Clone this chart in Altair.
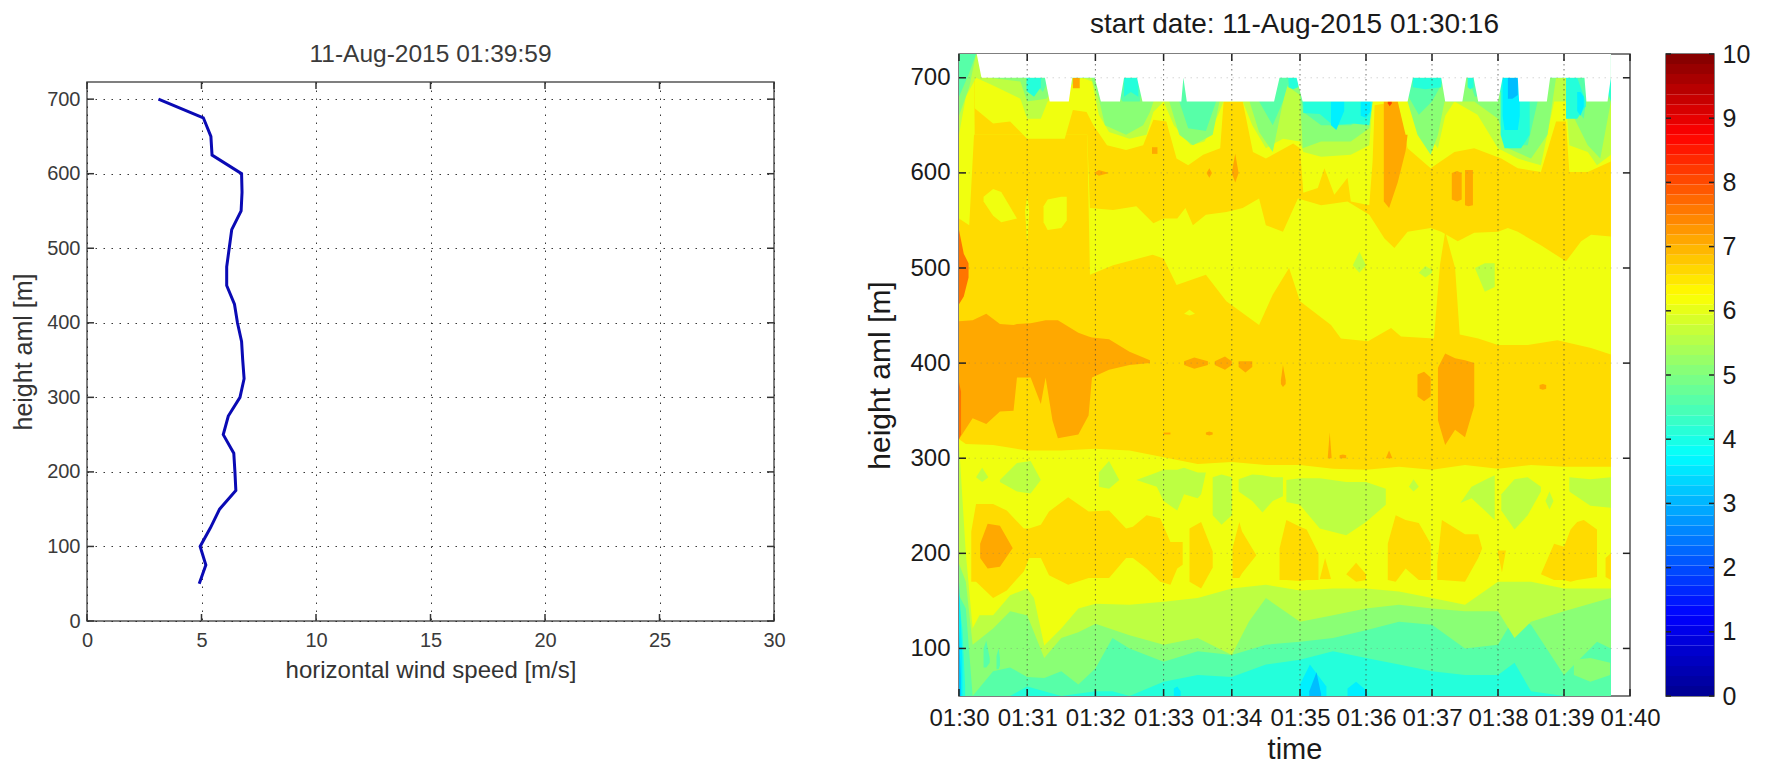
import altair as alt
import pandas as pd

FONT = "Liberation Sans"

# ---------- left panel: wind profile ----------
profile_height = [700,675,650,625,600,575,550,525,500,475,450,425,400,375,350,325,300,275,250,225,200,175,150,125,100,75,50]
profile_speed = [3.12,5.08,5.41,5.46,6.75,6.77,6.73,6.32,6.21,6.1,6.1,6.44,6.57,6.75,6.8,6.86,6.68,6.17,5.95,6.41,6.46,6.5,5.79,5.39,4.94,5.19,4.9]
left_xticks = [0,5,10,15,20,25,30]
left_yticks = [0,100,200,300,400,500,600,700]

# ---------- right panel: wind-speed bands, painted bottom to top ----------
base_band = (4.1, [0, 9.71], [50, 50])
strata = [
 (4.6, [0,.75,1,1.25,1.5,2,2.25,2.5,3,3.5,4,4.5,5,5.5,6,6.5,7,7.5,8,8.25,8.5,9,9.71],
       [50,50,60,55,50,55,55,50,65,72,70,83,88,97,90,83,76,72,72,85,55,50,50]),
 (5.1, [0,.1,.2,.5,.75,1,1.25,1.5,1.75,2,2.25,2.5,3,3.5,4,4.5,5,5.5,6,6.5,7,7.5,8,8.25,8.5,9,9.5,9.71],
       [156,142,50,76,80,70,69,76,62,79,111,100,86,97,93,104,107,111,119,128,125,100,104,133,125,72,107,100]),
 (5.6, [0,.1,.2,.5,.75,1,1.25,1.5,1.75,2,2.5,3,3.5,4,4.25,4.5,5,5.5,6,6.5,7,7.5,8,8.25,8.5,9,9.5,9.71],
       [189,170,104,121,139,135,90,111,117,126,114,104,111,93,128,153,128,135,142,146,142,139,139,111,128,139,149,153]),
 (6.1, [0,.1,.2,.3,.5,.75,1,1.1,1.25,1.5,1.75,2,2.5,3,3.5,4,4.5,5,5.5,6,6.5,7,7.5,8,8.5,9,9.5,9.71],
       [315,200,121,135,135,156,163,153,103,121,142,147,146,149,153,163,167,161,163,163,160,153,146,170,170,163,163,163]),
 (6.6, [0,.1,.5,1,1.5,2,2.5,3,3.5,4,4.5,5,5.5,6,6.5,7,7.5,8,8.5,9,9.71],
       [320,315,314,308,308,310,308,301,294,296,293,293,289,288,291,288,293,289,293,291,291]),
 (6.1, [0,.15,.22,1.88,1.92,2.26,2.84,3,3.19,3.62,3.92,4.4,4.6,4.84,5,5.47,5.62,6.03,6.38,6.53,7.03,7.12,7.2,7.35,7.42,7.7,8,8.45,8.9,9.41,9.71],
       [552,545,640,640,493,503,514,510,482,493,465,440,472,500,465,440,426,423,437,428,426,503,538,500,430,426,419,419,424,416,409]),
 (6.6, [0,.22,.23,1.88,1.92,2.26,2.6,2.85,3,3.2,3.32,3.43,3.62,3.92,4.16,4.4,4.5,4.75,4.97,5.32,5.72,6.05,6.28,6.43,6.63,6.98,7.14,7.39,7.64,8,8.15,8.3,8.65,9.03,9.26,9.41,9.71],
       [725,725,640,640,563,561,565,547,552,552,563,545,556,559,563,573,545,538,573,566,570,556,531,521,538,542,538,528,537,538,542,538,524,507,528,535,533]),
 (6.1, [0,.22,.23,.5,.75,1,1.55,1.67,1.87,1.97,2.17,2.45,2.7,2.85,3.04,3.19,3.36,3.58,3.83,3.88,4.16,4.31,4.5,4.9,5,5.05,5.27,5.37,5.52,5.72,5.77,6.05,6.1,6.13,6.48,6.63,6.98,7.34,7.64,8.05,8.3,8.65,8.88,9.03,9.08,9.36,9.71],
       [725,725,668,652,654,636,636,666,664,650,629,624,629,656,654,615,608,619,626,675,675,622,615,631,626,579,584,605,577,595,570,566,612,671,675,626,605,622,626,615,605,601,654,654,601,601,612]),
 (5.6, [0,.1,.25,.5,.9,1,1.2,1.3,1.8,1.95,2.05,2.2,2.5,2.75,2.85,3,3.15,3.4,3.6,3.8,3.88,4.16,4.3,4.5,4.75,5,5.05,5.32,5.77,6.05,6.13,6.48,6.63,6.78,7.09,7.2,7.34,7.69,8,8.3,8.65,8.85,9.03,9.08,9.36,9.5,9.71],
       [640,680,700,692,678,657,657,675,700,696,661,643,636,640,664,675,650,629,633,661,675,675,650,626,636,633,622,617,619,629,700,700,675,654,626,660,675,661,626,615,608,675,675,629,622,608,619]),
 (5.1, [0,.15,.25,.45,.9,1,1.28,1.55,1.94,2.06,2.14,2.45,2.7,2.8,2.97,3.1,3.23,3.43,3.72,3.82,4.11,4.26,4.4,4.6,4.8,5,5.04,5.32,5.77,6.05,6.13,6.63,6.78,6.98,7.09,7.19,7.64,8,8.15,8.5,8.75,8.88,9.03,9.08,9.36,9.55,9.71],
       [660,690,725,700,696,675,678,700,700,675,650,640,650,664,700,671,640,629,640,675,700,675,643,622,692,682,626,633,633,647,700,675,640,619,640,675,675,657,626,615,640,700,700,668,629,615,675]),
 (4.6, [0,.15,.25,.9,1,1.09,1.23,1.33,1.97,2.0,2.09,2.16,2.4,2.65,2.7,3.2,3.23,3.36,3.62,3.77,3.85,4.36,4.4,4.6,4.75,4.85,5,5.05,5.32,5.77,6.05,6.13,6.5,6.63,6.8,7,7.2,7.55,7.65,8.05,8.15,8.45,8.6,8.7,9.08,9.1,9.3,9.33,9.4,9.6,9.66,9.71],
       [680,705,725,700,700,696,685,700,700,700,675,700,675,675,700,700,675,647,644,675,700,700,675,650,675,700,689,664,650,650,661,700,700,682,661,675,700,700,680,685,629,629,675,700,700,675,657,675,700,700,675,692]),
]
# isolated patches: value, times, lower edge, upper edge
patches = [
 (5.6,[.25,.34,.43],[280,275,280],[280,290,280]),
 (5.6,[.6,.85,1.05,1.2],[275,265,263,277],[277,295,297,277]),
 (5.6,[2.05,2.2,2.35],[270,268,277],[285,297,277]),
 (5.6,[2.6,2.9,3,3.2,3.3,3.5,3.55,3.62],[277,270,255,245,262,258,262,285],[277,285,288,288,290,285,285,285]),
 (5.6,[3.72,3.85,4],[240,230,240],[280,283,280]),
 (5.6,[4.1,4.3,4.45,4.6,4.75],[265,255,243,255,260],[278,283,282,280,280]),
 (5.6,[4.8,5,5.3,5.7,6,6.3],[254,251,226,219,233,251],[277,279,279,275,275,268]),
 (5.6,[6.65,6.72,6.8],[270,265,270],[270,278,270]),
 (5.6,[7.43,7.6,7.8,7.95],[253,258,245,235],[253,270,277,282]),
 (5.6,[8.05,8.25,8.45,8.65],[245,225,240,265],[262,278,280,270]),
 (5.6,[8.72,8.78,8.84],[255,246,255],[255,265,255]),
 (5.6,[9.08,9.4,9.71],[265,250,248],[280,278,280]),
 (6.6,[.18,.25,.5,.7,.95,1.03,1.2,1.32,1.6,1.9,2.2,2.45,2.55,2.75,2.95,3.1,3.2,3.28],
      [170,170,153,161,181,195,195,177,167,174,174,195,195,184,170,167,184,188],
      [223,252,252,245,226,226,230,244,259,244,245,226,228,240,237,212,212,212]),
 (6.6,[3.38,3.55,3.72],[170,163,185],[226,233,202]),
 (6.6,[4.01,4.11,4.15,4.36],[174,174,179,198],[205,233,223,198]),
 (6.6,[4.7,4.8,5,5.1,5.28],[172,172,171,172,172],[205,235,228,225,200]),
 (6.6,[5.3,5.38,5.47],[173,173,173],[173,195,173]),
 (6.6,[5.7,5.85,6],[178,170,172],[178,190,178]),
 (6.6,[6.33,6.45,6.6,6.8,6.98],[172,170,184,172,172],[210,240,235,232,210]),
 (6.6,[7.08,7.15,7.5,7.7,7.76],[172,172,170,195,205],[190,235,220,220,205]),
 (6.6,[8,8.06,8.12],[200,180,203],[203,203,203]),
 (6.6,[8.65,8.85,9,9.1,9.2,9.3,9.5],[178,172,172,170,172,173,175],[178,210,207,225,233,235,225]),
 (6.6,[9.63,9.71],[175,172],[195,200]),
 (6.1,[.36,.5,.62,.85],[570,555,548,552],[575,583,580,552]),
 (6.1,[.97,1,1.03],[560,524,560],[560,577,560]),
 (6.1,[1.24,1.3,1.5,1.58],[548,540,542,550],[565,572,575,575]),
 (6.1,[3.3,3.38,3.46],[452,450,452],[452,456,452]),
 (5.6,[5.8,5.9,6],[503,495,503],[503,517,503]),
 (5.6,[6.8,6.9,7],[495,490,495],[495,502,498]),
 (5.6,[7.65,7.8,7.95],[500,475,480],[500,505,505]),
 (7.1,[0,.2,.4,.6,.8,.85,1.05,1.2,1.27,1.37,1.45,1.75,1.9,1.95,2.2,2.5,2.8],
      [320,342,336,349,350,385,385,357,385,340,321,325,345,385,393,398,400],
      [444,445,452,441,440,441,442,444,445,445,445,432,428,427,425,412,403]),
 (7.1,[.31,.42,.6,.79],[195,184,186,206],[210,231,229,205]),
 (7.1,[3.3,3.45,3.65],[398,394,398],[402,406,402]),
 (7.1,[3.75,3.9,4],[398,393,398],[402,407,402]),
 (7.1,[4.1,4.2,4.3],[396,390,396],[402,402,402]),
 (7.1,[1.98,2.05,2.2],[600,597,600],[600,603,600]),
 (7.1,[2.83,2.87,2.91],[620,620,620],[627,627,627]),
 (7.1,[3.63,3.67,3.71],[600,595,600],[600,605,600]),
 (7.1,[4,4.05,4.1],[600,590,600],[600,620,600]),
 (7.1,[6.27,6.35,6.48,6.6,6.63],[570,563,590,623,640],[675,675,675,640,640]),
 (7.1,[7.3,7.38,7.45],[572,570,572],[600,602,600]),
 (7.1,[7.5,7.55,7.62],[566,565,566],[603,603,603]),
 (7.1,[1.67,1.72,1.77],[689,689,689],[700,700,700]),
 (7.1,[4.72,4.75,4.79],[378,375,378],[382,398,382]),
 (7.1,[6.78,6.88,6.98],[365,360,365],[388,391,385]),
 (7.1,[7.09,7.2,7.35,7.5,7.64],[340,314,330,322,355],[395,410,405,403,400]),
 (7.1,[8.63,8.68,8.73],[373,372,373],[377,378,377]),
 (7.1,[5.42,5.45,5.48],[300,300,300],[300,327,300]),
 (7.1,[5.6,5.65,5.7],[300,300,300],[303,304,303]),
 (7.1,[6.3,6.35,6.4],[300,300,300],[300,308,300]),
 (7.1,[3,3.05,3.1],[325,325,325],[327,327,327]),
 (7.1,[3.62,3.67,3.72],[325,324,325],[327,328,327]),
 (7.6,[0,.07,.14],[462,470,490],[540,515,505]),
 (7.6,[0,.03],[320,325],[380,370]),
 (8.1,[6.33,6.36,6.39],[673,670,673],[675,675,675]),
 (4.1,[0,.05,.09],[50,50,50],[150,120,60]),
 (3.6,[0,.05],[50,50],[170,90]),
 (3.1,[0,.025],[50,50],[120,70]),
 (4.6,[.36,.4,.45],[80,80,85],[100,108,90]),
 (4.6,[.55,.58,.6],[78,78,82],[92,100,90]),
 (5.1,[9.15,9.4,9.7],[72,65,72],[88,90,85]),
 (3.6,[3.15,3.2,3.25],[50,50,50],[58,60,55]),
 (3.6,[5,5.15,5.4],[50,50,50],[62,83,60]),
 (3.1,[5.14,5.25,5.32],[50,50,50],[55,75,52]),
 (3.6,[5.72,5.85,6.02],[50,50,50],[58,65,55]),
 (4.1,[.99,1.1,1.2],[686,680,690],[700,700,700]),
 (4.1,[2.42,2.52,2.63],[680,685,680],[700,700,700]),
 (4.1,[4.83,4.9,4.97],[690,688,690],[700,700,700]),
 (4.1,[5.05,5.3,5.5,5.8,6.05,6.1],[663,662,650,652,650,675],[675,675,675,675,675,675]),
 (3.6,[5.47,5.55,5.67],[650,645,665],[675,675,675]),
 (3.6,[5.92,6,6.07],[660,658,665],[675,675,675]),
 (4.1,[6.71,6.9,7.14],[690,688,690],[700,700,700]),
 (4.1,[7.54,7.58,7.63],[690,688,690],[700,700,700]),
 (4.1,[8.04,8.1,8.35,8.48],[640,626,626,640],[700,700,700,675]),
 (3.6,[8.07,8.1,8.3,8.33],[660,645,645,660],[700,700,700,700]),
 (3.1,[8.15,8.22,8.3],[678,678,682],[700,700,700]),
 (4.1,[9.03,9.2,9.33],[657,657,670],[700,700,675]),
 (3.6,[9.2,9.25,9.3],[665,660,670],[685,685,680]),
 (4.1,[9.66,9.71],[685,675],[690,700]),
]
ceiling_t = [0,.26,.33,1.26,1.33,1.61,1.66,1.99,2.08,2.36,2.42,2.61,2.69,3.26,3.29,3.34,4.62,4.7,4.95,5.04,6.63,6.71,7.14,7.2,7.46,7.52,7.63,7.7,8,8.07,8.3,8.32,8.74,8.79,9.31,9.34,9.66,9.71]
ceiling_h = [725,725,700,700,675,675,700,700,675,675,700,700,675,675,700,675,675,700,700,675,675,700,700,675,675,700,700,675,675,700,700,675,675,700,700,675,675,700]

heat_xticks = [0,1,2,3,4,5,6,7,8,9,10]
heat_yticks = [100,200,300,400,500,600,700]
heat_xscale = alt.Scale(domain=[0,5,10], range=[0,341,671])
heat_yscale = alt.Scale(domain=[50,725], nice=False, zero=False)

jet = alt.Scale(domain=[0,1.25,3.75,6.25,8.75,10],
                range=["#00008f","#0000ff","#00ffff","#ffff00","#ff0000","#800000"],
                interpolate="rgb")
cbar_steps = [i * 10 / 64 for i in range(64)]
cbar_ticks = [0,1,2,3,4,5,6,7,8,9,10]

EDGE = "#555555"


def tick_layers(xvals, yvals, xscale, yscale, w, h, length, color, xs=True):
    dfx = pd.DataFrame({"v": xvals})
    dfy = pd.DataFrame({"v": yvals})
    out = []
    if xs:
        bx = alt.Chart(dfx).mark_rule(color=color, strokeWidth=1.5)
        xenc = alt.X("v:Q", scale=xscale, axis=None)
        out += [bx.encode(x=xenc, y=alt.value(h), y2=alt.value(h - length)),
                bx.encode(x=xenc, y=alt.value(0), y2=alt.value(length))]
    by = alt.Chart(dfy).mark_rule(color=color, strokeWidth=1.5)
    yenc = alt.Y("v:Q", scale=yscale, axis=None)
    out += [by.encode(y=yenc, x=alt.value(0), x2=alt.value(length)),
            by.encode(y=yenc, x=alt.value(w), x2=alt.value(w - length))]
    return out


# ---- left ----
LW, LH = 687, 539
lxs = alt.Scale(domain=[0,30], nice=False)
lys = alt.Scale(domain=[0,723], nice=False)
prof = pd.DataFrame({"speed": profile_speed, "height": profile_height})
left_line = alt.Chart(prof).mark_line(color="#0a0ab4", strokeWidth=3).encode(
    x=alt.X("speed:Q", scale=lxs, title="horizontal wind speed [m/s]",
            axis=alt.Axis(values=left_xticks, grid=True, gridColor="#222222", gridDash=[1.5,6.5],
                          gridOpacity=0.9, ticks=False, domain=False, labelFontSize=20, labelColor="#3a3a3a",
                          labelPadding=9, labelFlush=False, titleFontSize=24, titleColor="#333333", titleFontWeight="normal",
                          titlePadding=8, format="d")),
    y=alt.Y("height:Q", scale=lys, title="height aml [m]",
            axis=alt.Axis(values=left_yticks, grid=True, gridColor="#222222", gridDash=[1.5,6.5],
                          gridOpacity=0.9, ticks=False, domain=False, labelFontSize=20, labelColor="#3a3a3a",
                          labelPadding=7, labelFlush=False, titleFontSize=25, titleColor="#333333", titleFontWeight="normal",
                          titlePadding=10)),
    order=alt.Order("height:Q"),
)
left = alt.layer(left_line, *tick_layers(left_xticks, left_yticks, lxs, lys, LW, LH, 7, "#333333")).resolve_axis(
    x="independent", y="independent").properties(
    width=LW, height=LH,
    title=alt.TitleParams("11-Aug-2015 01:39:59", fontSize=24.5, fontWeight="normal", color="#3a3a3a", offset=14),
)

spacer = alt.Chart(pd.DataFrame({"a": [0]})).mark_point(opacity=0).encode(
    x=alt.X("a:Q", axis=None), y=alt.Y("a:Q", axis=None)
).properties(width=LW, height=1, view=alt.ViewBackground(stroke=None))

# ---- heat ----
HW, HH = 671, 642
rows = []
shape = 0
for v, ts, hs in [base_band] + strata:
    for t, h in zip(ts, hs):
        rows.append({"id": f"{shape:03d}", "v": v, "t": t, "low": h, "high": 725})
    shape += 1
for v, ts, lo, hi in patches:
    for t, a, b in zip(ts, lo, hi):
        rows.append({"id": f"{shape:03d}", "v": v, "t": t, "low": a, "high": b})
    shape += 1

heat_x = alt.X("t:Q", scale=heat_xscale, title="time",
               axis=alt.Axis(values=heat_xticks, labelExpr="'01:' + (30 + datum.value)", grid=False, ticks=False,
                             domain=False, labelFontSize=24, labelColor="#1a1a1a", labelPadding=10, labelFlush=False,
                             labelOverlap=False, titleFontSize=29, titleColor="#1a1a1a", titleFontWeight="normal", titlePadding=5))
heat_y = alt.Y("low:Q", scale=heat_yscale, title="height aml [m]",
               axis=alt.Axis(values=heat_yticks, grid=False, ticks=False, domain=False, labelFontSize=24,
                             labelColor="#1a1a1a", labelPadding=9, labelFlush=False, titleFontSize=30, titleColor="#1a1a1a",
                             titleFontWeight="normal", titlePadding=14))
bands = alt.Chart(pd.DataFrame(rows)).mark_area(clip=True, interpolate="linear").encode(
    x=heat_x, y=heat_y, y2="high:Q",
    color=alt.Color("v:Q", scale=jet, legend=None),
    detail="id:N",
)
mask = alt.Chart(pd.DataFrame({"t": ceiling_t, "low": ceiling_h, "high": [725] * len(ceiling_t)})).mark_area(
    color="white", clip=True).encode(x=alt.X("t:Q", scale=heat_xscale, axis=None), y=alt.Y("low:Q", scale=heat_yscale, axis=None), y2="high:Q")
vgrid = alt.Chart(pd.DataFrame({"v": heat_xticks[1:-1]})).mark_rule(
    color="#444444", strokeDash=[1.5, 3.5], strokeWidth=1, opacity=0.75).encode(
    x=alt.X("v:Q", scale=heat_xscale, axis=None))
hgrid = alt.Chart(pd.DataFrame({"v": heat_yticks})).mark_rule(
    color="#777777", strokeDash=[1.5, 4.5], strokeWidth=1, opacity=0.3).encode(
    y=alt.Y("v:Q", scale=heat_yscale, axis=None))
heat = alt.layer(bands, mask, hgrid, vgrid, *tick_layers(heat_xticks, heat_yticks, heat_xscale, heat_yscale, HW, HH, 7, "#222222")).resolve_axis(
    x="independent", y="independent").properties(
    width=HW, height=HH,
    title=alt.TitleParams("start date: 11-Aug-2015 01:30:16", fontSize=28, fontWeight="normal", color="#1a1a1a", offset=14),
)

# ---- colorbar ----
CW = 48
cbar_df = pd.DataFrame({"lo": cbar_steps, "hi": [s + 10 / 64 for s in cbar_steps], "mid": [s + 5 / 64 for s in cbar_steps]})
cy = alt.Scale(domain=[0, 10], nice=False)
cbar_rect = alt.Chart(cbar_df).mark_rect().encode(
    x=alt.value(0), x2=alt.value(CW),
    y=alt.Y("lo:Q", scale=cy, title=None,
            axis=alt.Axis(values=cbar_ticks, orient="right", ticks=False, domain=False, grid=False, labelFontSize=25,
                          labelColor="#1a1a1a", labelPadding=8, labelFlush=False, format="d")),
    y2="hi:Q",
    color=alt.Color("mid:Q", scale=jet, legend=None),
)
cbar = alt.layer(cbar_rect, *tick_layers([], cbar_ticks, None, cy, CW, HH, 5, "#222222", xs=False)).resolve_axis(
    y="independent").properties(width=CW, height=HH)

chart = alt.hconcat(
    alt.vconcat(spacer, left, spacing=27, bounds="flush"),
    alt.hconcat(heat, cbar, spacing=3),
    spacing=79,
).resolve_scale(color="independent").configure(
    font=FONT, background="white", padding={"left": 2, "top": 2, "right": 0, "bottom": 0},
).configure_view(stroke=EDGE, strokeWidth=1.5)

chart.save("out.html", embed_options={"renderer": "svg", "actions": False})
